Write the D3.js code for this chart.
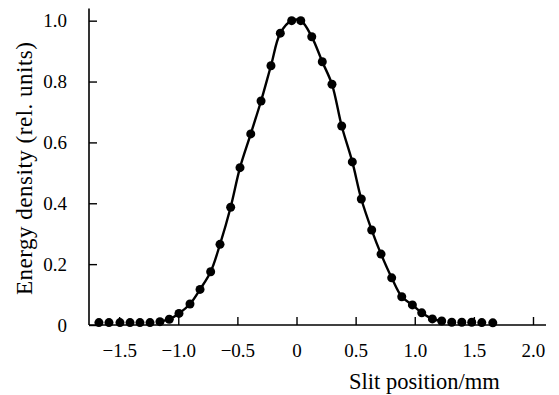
<!DOCTYPE html>
<html>
<head>
<meta charset="utf-8">
<script src="https://cdn.jsdelivr.net/npm/d3@7"></script>
<style>
  body { margin: 0; background: #fff; }
  text { font-family: "Liberation Serif", "DejaVu Serif", serif; fill: #000; }
</style>
</head>
<body>
<script>
var slitPos = [-1.671, -1.586, -1.493, -1.408, -1.324, -1.239, -1.155, -1.076, -0.994, -0.901,
               -0.816, -0.726, -0.647, -0.557, -0.478, -0.387, -0.300, -0.216, -0.137, -0.041,
                0.036,  0.129,  0.218,  0.300,  0.382,  0.472,  0.548,  0.636,  0.715,  0.805,
                0.890,  0.980,  1.059,  1.149,  1.228,  1.313,  1.398,  1.482,  1.567,  1.660];
var energy = [0.008, 0.008, 0.008, 0.008, 0.008, 0.008, 0.011, 0.019, 0.038, 0.069,
              0.117, 0.175, 0.265, 0.387, 0.517, 0.628, 0.736, 0.852, 0.959, 1.000,
              1.000, 0.947, 0.865, 0.791, 0.654, 0.536, 0.414, 0.312, 0.233, 0.155,
              0.093, 0.066, 0.040, 0.020, 0.013, 0.009, 0.009, 0.009, 0.008, 0.007];

var xTicks = [-1.5, -1.0, -0.5, 0, 0.5, 1.0, 1.5, 2.0];
var xTickLabels = ['\u22121.5', '\u22121.0', '\u22120.5', '0', '0.5', '1.0', '1.5', '2.0'];
var yTicks = [0, 0.2, 0.4, 0.6, 0.8, 1.0];
var yTickLabels = ['0', '0.2', '0.4', '0.6', '0.8', '1.0'];

var width = 559, height = 395;

var data = slitPos.map(function(x, i) { return { x: x, y: energy[i] }; });

var xScale = d3.scaleLinear().domain([-1.755, 2.11]).range([89, 546]);
var yScale = d3.scaleLinear().domain([0, 1.04]).range([325, 8.5]);

var svg = d3.select('body').append('svg')
    .attr('width', width)
    .attr('height', height);

// axes, ticks pointing inwards
var xAxis = d3.axisBottom(xScale)
    .tickValues(xTicks)
    .tickSize(-8)
    .tickPadding(19)
    .tickFormat(function(d, i) { return xTickLabels[i]; });

var yAxis = d3.axisLeft(yScale)
    .tickValues(yTicks)
    .tickSize(-8)
    .tickPadding(22)
    .tickFormat(function(d, i) { return yTickLabels[i]; });

var gx = svg.append('g')
    .attr('transform', 'translate(0,' + yScale(0) + ')')
    .call(xAxis);
var gy = svg.append('g')
    .attr('transform', 'translate(' + xScale.range()[0] + ',0)')
    .call(yAxis);

[gx, gy].forEach(function(g) {
    g.select('.domain').attr('stroke', '#000').attr('stroke-width', 1.6);
    g.selectAll('.tick line').attr('stroke', '#000').attr('stroke-width', 1.4);
    g.selectAll('.tick text')
        .style('font-family', '"Liberation Serif", serif')
        .style('font-size', '19px')
        .attr('fill', '#000');
});
gx.select('.domain').attr('d', 'M' + xScale.range()[0] + ',0H' + xScale.range()[1]);
gy.select('.domain').attr('d', 'M0,' + yScale.range()[0] + 'V' + yScale.range()[1]);

// smooth curve through the central points
var line = d3.line()
    .x(function(d) { return xScale(d.x); })
    .y(function(d) { return yScale(d.y); })
    .curve(d3.curveCatmullRom.alpha(0.5));

svg.append('path')
    .datum(data.filter(function(d) { return d.x > -1.2 && d.x < 1.25; }))
    .attr('fill', 'none')
    .attr('stroke', '#000')
    .attr('stroke-width', 2.4)
    .attr('d', line);

svg.append('g').selectAll('circle')
    .data(data)
    .enter().append('circle')
    .attr('cx', function(d) { return xScale(d.x); })
    .attr('cy', function(d) { return yScale(d.y); })
    .attr('r', 4.5)
    .attr('fill', '#000');

// axis titles
svg.append('text')
    .attr('x', 349)
    .attr('y', 389)
    .style('font-size', '22.5px')
    .text('Slit position/mm');

svg.append('text')
    .attr('transform', 'translate(32,' + 295 + ') rotate(-90)')
    .attr('textLength', 253)
    .attr('lengthAdjust', 'spacing')
    .style('font-size', '23px')
    .text('Energy density (rel. units)');
</script>
</body>
</html>
